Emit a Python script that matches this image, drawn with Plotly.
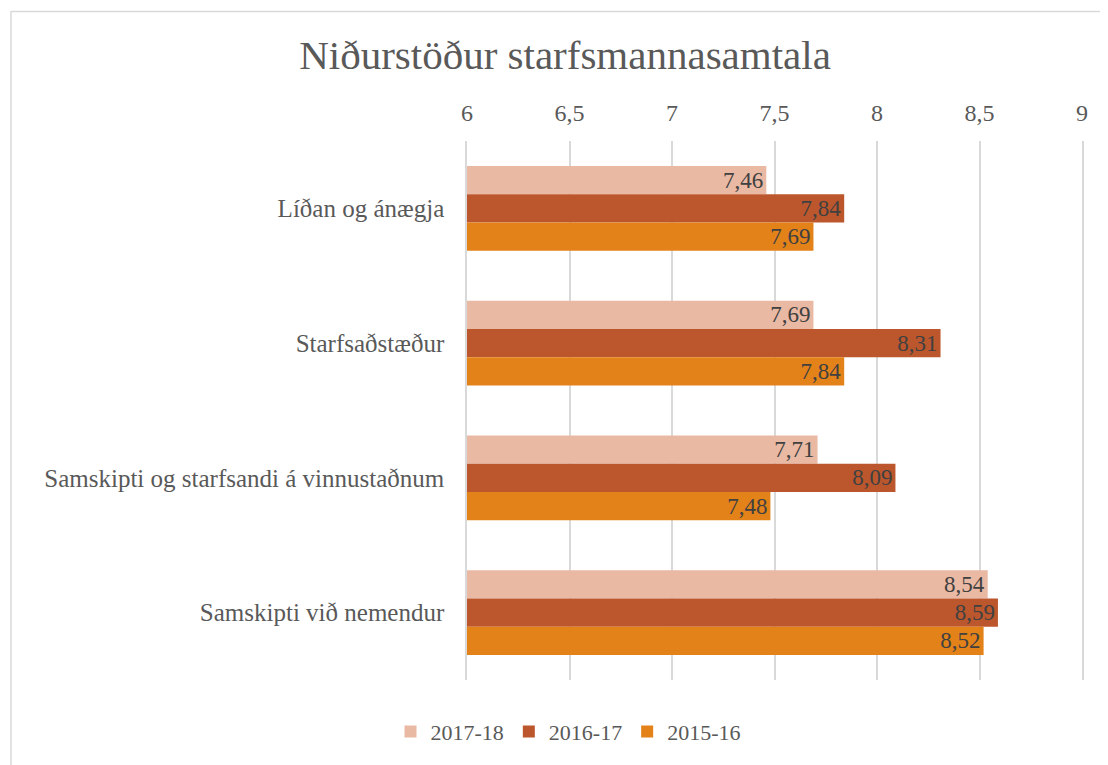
import plotly.graph_objects as go

categories = ["Líðan og ánægja", "Starfsaðstæður",
              "Samskipti og starfsandi á vinnustaðnum", "Samskipti við nemendur"]
series_names = ["2017-18", "2016-17", "2015-16"]
v_2017_18 = [7.46, 7.69, 7.71, 8.54]
v_2016_17 = [7.84, 8.31, 8.09, 8.59]
v_2015_16 = [7.69, 7.84, 7.48, 8.52]
colors = ["#EAB9A4", "#BC572D", "#E4821A"]
x_ticks = [6, 6.5, 7, 7.5, 8, 8.5, 9]
x_tick_labels = ["6", "6,5", "7", "7,5", "8", "8,5", "9"]

FONT = "Liberation Serif"
TXT = "#595959"
GRID = "#D9D9D9"

fig = go.Figure()
for name, vals, col in zip(series_names, [v_2017_18, v_2016_17, v_2015_16], colors):
    fig.add_trace(go.Bar(
        y=categories, x=vals, name=name, orientation="h",
        marker=dict(color=col, line=dict(width=0)),
        texttemplate="%{x:.2f}", textposition="inside", insidetextanchor="end",
        textfont=dict(family=FONT, size=23, color="#404040"),
        constraintext="none", cliponaxis=False,
    ))

# page has an 8px body margin; work in page pixels and subtract it
OFF = 8
W, H = 1108 - OFF, 765 - OFF
PL, PR, PT, PB = 467, 1082, 141, 684  # plot area in page pixels
L, R, T, B = PL - OFF, W - (PR - OFF), PT - OFF, H - (PB - OFF)
pw, ph = PR - PL, PB - PT

def px(xp):
    return (xp - PL) / pw

def py(yp):
    return 1 - (yp - PT) / ph

shapes = [
    dict(type="line", xref="paper", yref="paper", x0=px(11), x1=px(1120), y0=py(10.5), y1=py(10.5),
         line=dict(color=GRID, width=1.5)),
    dict(type="line", xref="paper", yref="paper", x0=px(11), x1=px(11), y0=py(10), y1=py(780),
         line=dict(color=GRID, width=1.5)),
]

fig.update_layout(
    width=W, height=H,
    margin=dict(l=L, r=R, t=T, b=B, pad=0),
    paper_bgcolor="white", plot_bgcolor="white",
    separators=",.",
    barmode="group", bargap=0.37, bargroupgap=0,
    font=dict(family=FONT, color=TXT),
    title=dict(text="Niðurstöður starfsmannasamtala", font=dict(family=FONT, size=41, color=TXT),
               x=(565 - OFF) / W, xanchor="center", xref="container",
               y=1 - (55 - OFF) / H, yanchor="middle", yref="container"),
    xaxis=dict(range=[6, 9], side="top", tickvals=x_ticks, ticktext=x_tick_labels,
               showgrid=True, gridcolor=GRID, gridwidth=1.5,
               zeroline=False, showline=False, ticks="",
               ticklabelstandoff=14,
               tickfont=dict(family=FONT, size=24, color=TXT)),
    yaxis=dict(autorange="reversed", showgrid=False, ticks="",
               showline=True, mirror=True, linecolor=GRID, linewidth=1.5,
               ticklabelstandoff=16,
               tickfont=dict(family=FONT, size=25, color=TXT)),
    legend=dict(orientation="h", x=px(568), xanchor="center",
                y=py(736), yanchor="middle",
                font=dict(family=FONT, size=22, color=TXT), traceorder="normal"),
    shapes=shapes,
)

fig.write_html("out.html")
